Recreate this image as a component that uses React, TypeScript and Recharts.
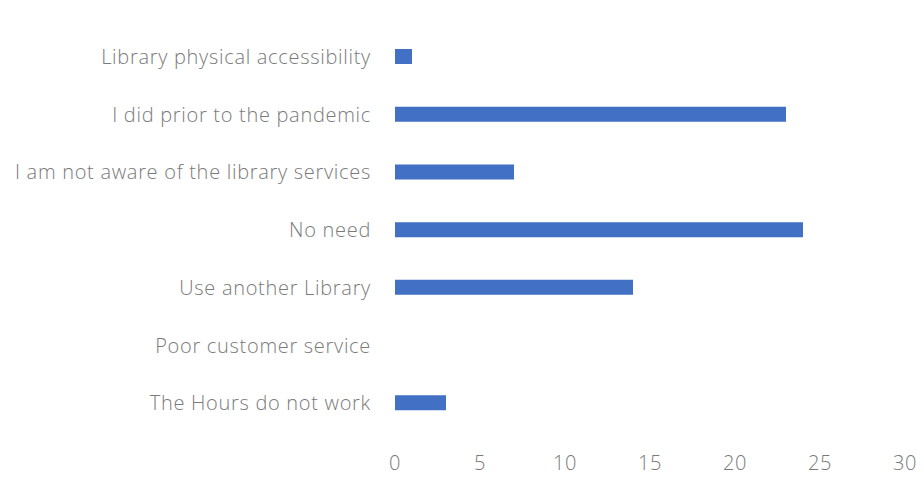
import React from "react";
import { BarChart, Bar, XAxis, YAxis } from "recharts";

const categories = [
  "Library physical accessibility",
  "I did prior to the pandemic",
  "I am not aware of the library services",
  "No need",
  "Use another Library",
  "Poor customer service",
  "The Hours do not work",
];
const counts = [1, 23, 7, 24, 14, 0, 3];
const xTicks = [0, 5, 10, 15, 20, 25, 30];

const data = categories.map((c, i) => ({ name: c, value: counts[i] }));

const tickStyle = {
  fontFamily: "Open Sans",
  fontSize: 20,
  fill: "#7a7a7a",
  fontWeight: 300,
  letterSpacing: 0.7,
};

export default function App() {
  return (
    <div style={{ position: "absolute", left: 0, top: 0, background: "#fff" }}>
      <BarChart
        width={924}
        height={488}
        data={data}
        layout="vertical"
        margin={{ top: 28, right: 19, bottom: 16, left: 0 }}
      >
        <XAxis
          type="number"
          domain={[0, 30]}
          ticks={xTicks}
          axisLine={false}
          tickLine={false}
          tickSize={0}
          tickMargin={24}
          height={40}
          tick={tickStyle}
          interval={0}
        />
        <YAxis
          type="category"
          dataKey="name"
          width={395}
          axisLine={false}
          tickLine={false}
          tickSize={0}
          tickMargin={24}
          tick={tickStyle}
          interval={0}
        />
        <Bar dataKey="value" fill="#4170c4" barSize={15} isAnimationActive={false} />
      </BarChart>
    </div>
  );
}
